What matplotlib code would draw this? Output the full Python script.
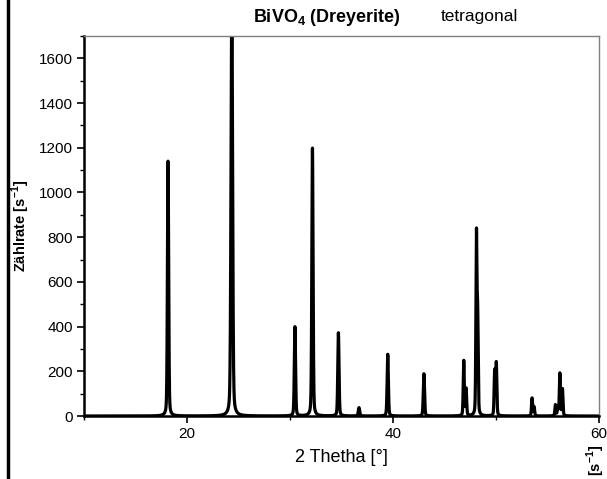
import numpy as np
import matplotlib
matplotlib.use('Agg')
import matplotlib.pyplot as plt
from matplotlib.ticker import MultipleLocator
from matplotlib.lines import Line2D

plt.rcParams['font.family'] = ['Liberation Sans', 'DejaVu Sans']

# reflex list: 2theta [deg], counts [1/s], width (hwhm) [deg]
peak_pos = [18.16, 24.35, 30.48, 32.18, 34.70, 36.70, 39.49, 43.00, 46.87, 47.10,
            48.10, 48.22, 49.87, 50.03, 53.50, 53.70, 55.77, 56.00, 56.20, 56.45]
peak_height = [1140, 1900, 399, 1198, 372, 37, 276, 189, 246, 120,
               795, 420, 200, 235, 80, 40, 49, 38, 190, 120]
peak_hwhm = [0.07, 0.09, 0.07, 0.07, 0.07, 0.08, 0.07, 0.07, 0.06, 0.06,
             0.06, 0.06, 0.06, 0.06, 0.06, 0.06, 0.06, 0.06, 0.06, 0.06]
eta = 0.3  # lorentzian share of the pseudo-voigt profile

two_theta = np.arange(10, 60.001, 0.005)
counts = np.zeros_like(two_theta)
for p, h, w in zip(peak_pos, peak_height, peak_hwhm):
    d = (two_theta - p) / w
    counts += h * (eta / (1 + d ** 2) + (1 - eta) * np.exp(-np.log(2) * d ** 2))

fig = plt.figure(figsize=(6.07, 4.79), dpi=100)
ax = fig.add_axes([84/607, 63/479, 515/607, 380/479])

ax.plot(two_theta, counts, color='black', lw=2.3)

ax.set_xlim(10, 60)
ax.set_ylim(0, 1700)
ax.xaxis.set_major_locator(MultipleLocator(20))
ax.xaxis.set_minor_locator(MultipleLocator(10))
ax.yaxis.set_major_locator(MultipleLocator(200))
ax.yaxis.set_minor_locator(MultipleLocator(100))

for s in ['left', 'bottom']:
    ax.spines[s].set_linewidth(1.8)
    ax.spines[s].set_color('black')
for s in ['top', 'right']:
    ax.spines[s].set_linewidth(1.0)
    ax.spines[s].set_color('#808080')

ax.tick_params(which='major', direction='out', length=5, width=1.2, labelsize=11, pad=3)
ax.tick_params(which='minor', direction='out', length=3, width=1.0)
ax.tick_params(top=False, right=False, which='both')

ax.set_xlabel('2 Thetha [°]', fontsize=13, labelpad=6)
ax.set_ylabel('Zählrate [s$^{\\mathregular{-1}}$]', fontsize=10.5, fontweight='bold', labelpad=5)

fig.text(327/607, 1 - 17/479, 'BiVO$_{\\mathregular{4}}$ (Dreyerite)', fontsize=13,
         fontweight='bold', ha='center', va='center')
fig.text(479/607, 1 - 17/479, 'tetragonal', fontsize=12.5, ha='center', va='center')

# cut-off label from the neighbouring panel
fig.text(596/607, 1 - 460/479, '[s$^{\\mathregular{-1}}$]', fontsize=10.5, fontweight='bold',
         rotation=90, ha='center', va='center')

# frame line of the neighbouring panel
fig.add_artist(Line2D([8/607, 8/607], [0, 1], color='black', lw=2.5,
                      transform=fig.transFigure))

fig.savefig('out.png', dpi=100)
